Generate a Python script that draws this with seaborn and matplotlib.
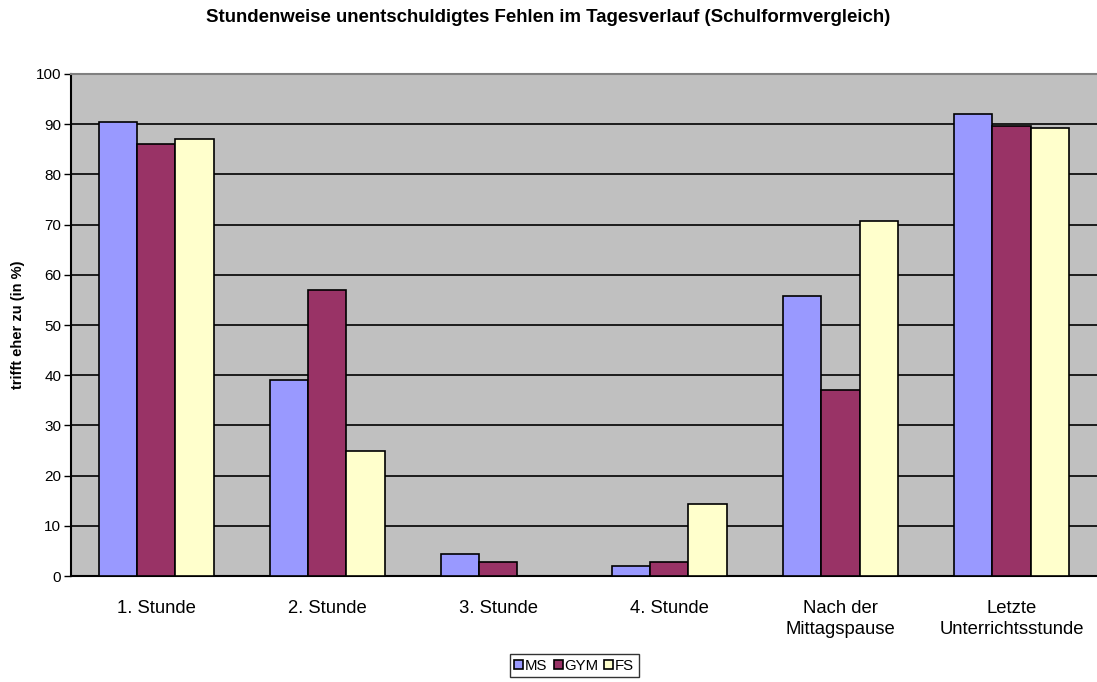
import pandas as pd
import matplotlib.pyplot as plt
import seaborn as sns

# DATA
stunden = ['1. Stunde', '2. Stunde', '3. Stunde', '4. Stunde',
           'Nach der\nMittagspause', 'Letzte\nUnterrichtsstunde']
schulformen = ['MS', 'GYM', 'FS']
ms = [90.4, 39.0, 4.4, 1.9, 55.7, 92.0]
gym = [86.0, 56.9, 2.7, 2.8, 37.0, 89.6]
fs = [87.1, 24.9, 0.0, 14.3, 70.8, 89.2]
farben = ['#9999FF', '#993366', '#FFFFCC']

df = pd.DataFrame({'Stunde': stunden, 'MS': ms, 'GYM': gym, 'FS': fs})
df_long = df.melt(id_vars='Stunde', var_name='Schulform', value_name='Wert')

# PLOT
sns.set_style('white')
plt.rcParams['font.family'] = ['Liberation Sans', 'DejaVu Sans']
plt.rcParams['text.color'] = 'black'
plt.rcParams['axes.labelcolor'] = 'black'
plt.rcParams['xtick.color'] = 'black'
plt.rcParams['ytick.color'] = 'black'

fig = plt.figure(figsize=(10.97, 6.82), dpi=100)
ax = fig.add_axes([0.0647, 0.1554, 0.9353, 0.7361])
ax.set_facecolor('#C0C0C0')

sns.barplot(data=df_long, x='Stunde', y='Wert', hue='Schulform',
            hue_order=schulformen, palette=farben, order=stunden,
            width=0.667, edgecolor='black', linewidth=1.2, saturation=1,
            errorbar=None, ax=ax, zorder=3)

ax.set_ylim(0, 100)
ax.set_xlim(-0.5, len(stunden) - 0.5)
ax.set_yticks(range(0, 101, 10))
ax.yaxis.grid(True, color='black', linewidth=1.2, zorder=0)
ax.set_axisbelow(True)

# category tick marks between groups
ax.set_xticks([i - 0.5 for i in range(len(stunden) + 1)], minor=True)
ax.tick_params(axis='x', which='minor', length=5, width=1, color='black', direction='out')
ax.tick_params(axis='x', which='major', length=0, labelsize=13.3, pad=17)
ax.tick_params(axis='y', length=5, width=1, color='black', direction='out',
               labelsize=11, pad=2, left=True)
for lbl in ax.get_xticklabels():
    lbl.set_linespacing(1.35)

for side in ['left', 'bottom']:
    ax.spines[side].set_color('black')
    ax.spines[side].set_linewidth(1.5)
ax.spines['top'].set_color('#808080')
ax.spines['top'].set_linewidth(1.5)
ax.spines['right'].set_visible(False)

ax.set_xlabel('')
ax.set_ylabel('trifft eher zu (in %)', fontsize=10.5, fontweight='bold', labelpad=8)

fig.text(0.5, 0.974, 'Stundenweise unentschuldigtes Fehlen im Tagesverlauf (Schulformvergleich)',
         ha='center', va='center', fontsize=13.4, fontweight='bold')

ax.legend(loc='center', ncol=3, frameon=True, fancybox=False, edgecolor='black', fontsize=10.8,
          handlelength=0.6, handleheight=0.6, handletextpad=0.12, columnspacing=0.4,
          borderpad=0.3, borderaxespad=0)
leg = ax.get_legend()
leg.get_frame().set_linewidth(1)
leg.set_bbox_to_anchor((0.5235, 0.024), transform=fig.transFigure)

fig.savefig('out.png', dpi=100)
